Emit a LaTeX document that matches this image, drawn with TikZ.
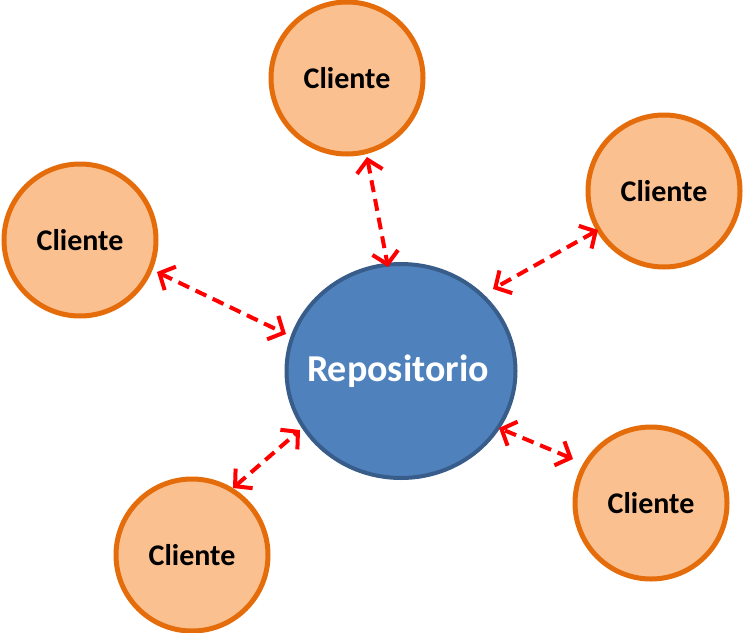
\documentclass[tikz,border=0pt]{standalone}
\usepackage{fontspec}
\setmainfont{Carlito}
\usetikzlibrary{arrows.meta,shapes.geometric}
\definecolor{cfill}{HTML}{FAC090}
\definecolor{cdraw}{HTML}{E46C0A}
\definecolor{rfill}{HTML}{4F81BD}
\definecolor{rdraw}{HTML}{385D8A}
\definecolor{arr}{HTML}{FF0000}
\tikzset{
  client/.style={circle, draw=cdraw, fill=cfill, line width=5pt, minimum size=152pt, inner sep=0pt,
    font=\fontsize{30}{34}\selectfont\bfseries, text=black},
  repo/.style={ellipse, draw=rdraw, fill=rfill, line width=4pt, minimum width=229pt, minimum height=214pt, inner sep=0pt},
  repotext/.style={font=\fontsize{38}{42}\selectfont\bfseries, text=white, inner sep=0pt},
  link/.style={draw=arr, line width=4pt, dash pattern=on 12pt off 7pt,
    {Straight Barb[length=12pt,width=26pt,line width=4pt]}-{Straight Barb[length=12pt,width=26pt,line width=4pt]}}
}
\begin{document}
\begin{tikzpicture}[x=1pt,y=-1pt]
\useasboundingbox (0,0) rectangle (744,632);
\node[repo] (R) at (401,371) {};
\node[repotext] (RT) at (398,371) {Repositorio};
\node[client] (C1) at (347,78) {Cliente};
\node[client] (C2) at (664,191) {Cliente};
\node[client] (C3) at (80,240) {Cliente};
\node[client] (C4) at (192,555) {Cliente};
\node[client] (C5) at (651,503) {Cliente};
\coordinate (a1) at (367,157); \coordinate (b1) at (388,267);
\coordinate (a2) at (598,230); \coordinate (b2) at (493,289);
\coordinate (a3) at (157,272); \coordinate (b3) at (286,334);
\coordinate (a4) at (233,488); \coordinate (b4) at (300,430);
\coordinate (a5) at (573,459); \coordinate (b5) at (499,428);
\draw[link] (a1) -- (b1);
\draw[link] (a2) -- (b2);
\draw[link] (a3) -- (b3);
\draw[link] (a4) -- (b4);
\draw[link] (a5) -- (b5);
\end{tikzpicture}
\end{document}
